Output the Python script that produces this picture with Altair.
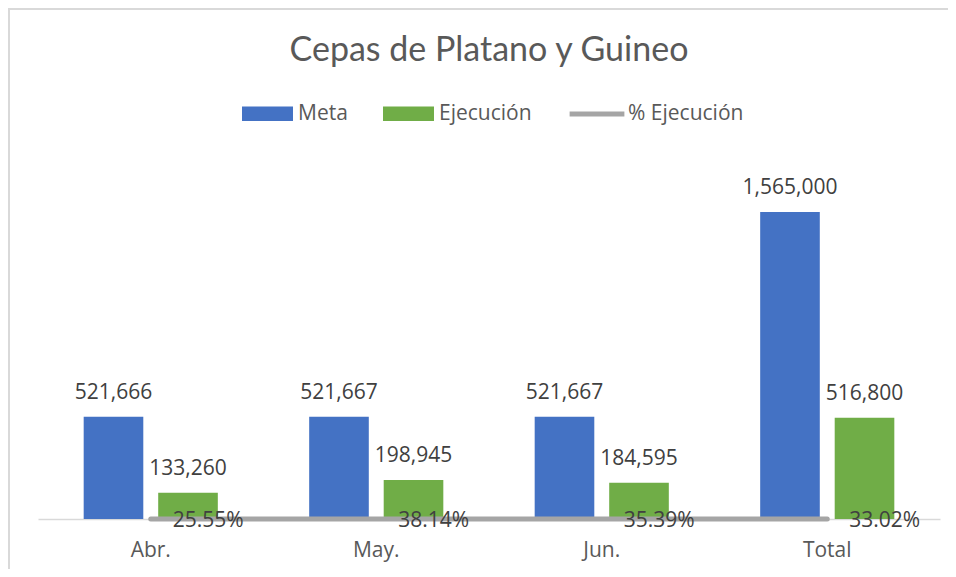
import altair as alt
import pandas as pd

categorias = ["Abr.", "May.", "Jun.", "Total"]
meta = [521666, 521667, 521667, 1565000]
ejecucion = [133260, 198945, 184595, 516800]
pct_ejecucion = [0.2555, 0.3814, 0.3539, 0.3302]

series = ["Meta", "Ejecución"]
colores_barras = ["#4472C4", "#70AD47"]
color_linea = "#A5A5A5"

rows = []
for c, m, e in zip(categorias, meta, ejecucion):
    rows.append({"cat": c, "serie": "Meta", "valor": m})
    rows.append({"cat": c, "serie": "Ejecución", "valor": e})
bars_df = pd.DataFrame(rows)
pct_df = pd.DataFrame({"cat": categorias, "pct": pct_ejecucion, "serie": "% Ejecución"})

FONT = "Open Sans"

x_enc = alt.X("cat:N", sort=categorias, title=None,
              scale=alt.Scale(paddingInner=0, paddingOuter=0),
              axis=alt.Axis(labelAngle=0, ticks=False, domainColor="#D9D9D9",
                            domainWidth=1.5, labelFontSize=21, labelColor="#595959",
                            labelFont=FONT, labelPadding=20, grid=False))
y_scale = alt.Scale(domain=[0, 1800000])
xoff = alt.XOffset("serie:N", sort=series,
                   scale=alt.Scale(paddingInner=0.2, paddingOuter=0.613))

border_top = alt.Chart(pd.DataFrame({"b": [0]})).mark_rule(
    stroke="#D9D9D9", strokeWidth=2
).encode(x=alt.value(-30), x2=alt.value(920), y=alt.value(-157))

border_left = alt.Chart(pd.DataFrame({"b": [0]})).mark_rule(
    stroke="#D9D9D9", strokeWidth=2
).encode(x=alt.value(-29), y=alt.value(-157), y2=alt.value(410))

bars = alt.Chart(bars_df).mark_bar().encode(
    x=x_enc,
    xOffset=xoff,
    y=alt.Y("valor:Q", scale=y_scale, axis=None),
    color=alt.Color("serie:N", sort=series,
                    scale=alt.Scale(domain=series, range=colores_barras),
                    legend=alt.Legend(title=None, orient="none", direction="horizontal",
                                      legendX=204, legendY=-78,
                                      symbolType="M-1,-0.28H1V0.28H-1Z",
                                      symbolSize=2600, symbolStrokeWidth=0,
                                      labelFontSize=21, labelColor="#595959",
                                      labelFont=FONT, labelOffset=5,
                                      columnPadding=35)),
)

bar_labels = alt.Chart(bars_df).mark_text(
    dy=-18, baseline="alphabetic", fontSize=21, color="#404040", font=FONT
).encode(
    x=x_enc,
    xOffset=xoff,
    y=alt.Y("valor:Q", scale=y_scale, axis=None),
    text=alt.Text("valor:Q", format=",.0f"),
)

line = alt.Chart(pct_df).mark_line(strokeWidth=5, strokeCap="round").encode(
    x=x_enc,
    y=alt.Y("pct:Q", scale=y_scale, axis=None),
    stroke=alt.Stroke("serie:N",
                      scale=alt.Scale(domain=["% Ejecución"], range=[color_linea]),
                      legend=alt.Legend(title=None, orient="none", legendX=529,
                                        legendY=-82, symbolType="stroke",
                                        symbolSize=3000, symbolStrokeWidth=5,
                                        labelFontSize=21, labelColor="#595959",
                                        labelFont=FONT, labelOffset=1)),
)

pct_labels = alt.Chart(pct_df).mark_text(
    align="left", baseline="middle", dx=22, dy=2, fontSize=21,
    color="#404040", font=FONT
).encode(
    x=x_enc,
    y=alt.Y("pct:Q", scale=y_scale, axis=None),
    text=alt.Text("pct:Q", format=".2%"),
)

chart = alt.layer(border_top, border_left, bars, bar_labels, line, pct_labels).properties(
    width=902,
    height=353,
    title=alt.TitleParams("Cepas de Platano y Guineo", fontSize=34, font="Lato",
                          fontWeight="normal", color="#595959", anchor="middle",
                          baseline="alphabetic", offset=-87),
    padding={"left": 30, "top": 158, "right": 8, "bottom": 50},
    autosize=alt.AutoSizeParams(type="none"),
).configure(background="white").configure_view(stroke=None)

chart.save("out.html", embed_options={"renderer": "svg", "actions": False})
